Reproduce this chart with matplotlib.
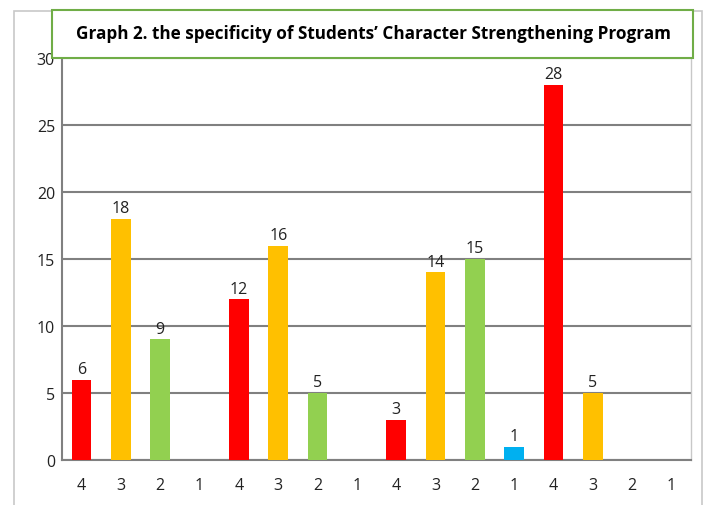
import matplotlib.pyplot as plt
from matplotlib.patches import Rectangle

labels = ["4", "3", "2", "1"] * 4
values = [6, 18, 9, 0, 12, 16, 5, 0, 3, 14, 15, 1, 28, 5, 0, 0]
colors = {"4": "#ff0000", "3": "#ffc000", "2": "#92d050", "1": "#00b0f0"}

plt.rcParams['font.family'] = ['Open Sans', 'DejaVu Sans']

fig = plt.figure(figsize=(7.12, 5.06), dpi=100)

# outer light frame
fig.patches.append(Rectangle((14 / 712, -0.1), 688 / 712, 1 - 12 / 506 + 0.1,
                             transform=fig.transFigure, fill=False,
                             edgecolor="#c8c8c8", linewidth=1.2))

ax = fig.add_axes([62 / 712, 1 - 461 / 506, 629 / 712, 402 / 506])
x = range(len(values))
bars = ax.bar(x, values, width=0.5, color=[colors[l] for l in labels], zorder=3)

for xi, v in zip(x, values):
    if v > 0:
        ax.text(xi, v + 0.2, str(v), ha="center", va="bottom", fontsize=11.5,
                color="#222222")

ax.set_xlim(-0.5, len(values) - 0.5)
ax.set_ylim(0, 30)
ax.set_yticks(range(0, 31, 5))
ax.set_xticks(list(x))
ax.set_xticklabels(labels)
ax.tick_params(axis="both", length=0, labelsize=11.5, colors="#222222")
ax.tick_params(axis="x", pad=12)
ax.tick_params(axis="y", pad=5)
ax.yaxis.grid(True, color="#808080", linewidth=1.5, zorder=0)
for s in ax.spines.values():
    s.set_color("#808080")
    s.set_linewidth(1.5)
ax.spines["top"].set_visible(False)
ax.spines["right"].set_color("#c8c8c8")
ax.spines["right"].set_linewidth(1.0)

# title box
fig.patches.append(Rectangle((52 / 712, 1 - 59 / 506), 641 / 712, 48 / 506,
                             transform=fig.transFigure, facecolor="white",
                             edgecolor="#70ad47", linewidth=1.5, zorder=5))
fig.text(373 / 712, 1 - 34 / 506,
         "Graph 2. the specificity of Students\u2019 Character Strengthening Program",
         ha="center", va="center", fontsize=12.3, fontweight="bold", zorder=6)

fig.savefig("out.png", dpi=100)
